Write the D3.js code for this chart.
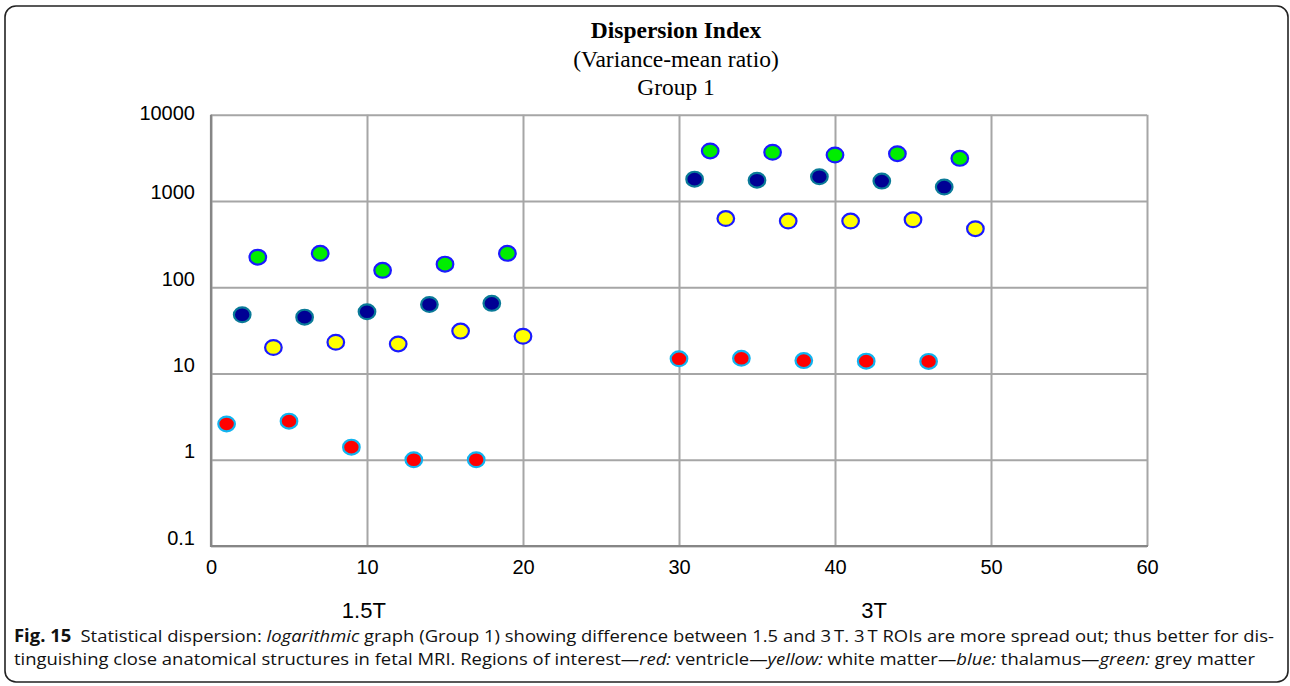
<!DOCTYPE html>
<html><head><meta charset="utf-8">
<script src="https://cdn.jsdelivr.net/npm/d3@7"></script>
<style>body{margin:0;background:#fff}svg{display:block}</style>
</head><body>
<svg id="c" width="1290" height="686"></svg>
<script>
// ---- data ----
const xTicks = [0, 10, 20, 30, 40, 50, 60];
const yTicks = [0.1, 1, 10, 100, 1000, 10000];
const yTickLabels = ["0.1", "1", "10", "100", "1000", "10000"];
const ventricleX = [1, 5, 9, 13, 17, 30, 34, 38, 42, 46];
const ventricleY = [2.6, 2.8, 1.4, 1.0, 1.0, 14.8, 15.0, 14.1, 13.9, 13.8];
const thalamusX = [2, 6, 10, 14, 18, 31, 35, 39, 43, 47];
const thalamusY = [48, 45, 52, 63, 65, 1790, 1740, 1910, 1700, 1450];
const whiteX = [4, 8, 12, 16, 20, 33, 37, 41, 45, 49];
const whiteY = [20, 23, 22, 31, 27, 625, 585, 585, 605, 477];
const greyX = [3, 7, 11, 15, 19, 32, 36, 40, 44, 48];
const greyY = [223, 247, 157, 185, 247, 3800, 3670, 3410, 3530, 3120];
const groupLabels = ["1.5T", "3T"];
const groupLabelX = [9.8, 42.5];
const titleLines = ["Dispersion Index", "(Variance-mean ratio)", "Group 1"];

const series = [
  {x: ventricleX, y: ventricleY, fill: "#ff0000", stroke: "#10b4f0"},
  {x: thalamusX, y: thalamusY, fill: "#000094", stroke: "#0a7a98"},
  {x: whiteX, y: whiteY, fill: "#ffff00", stroke: "#1a1aff"},
  {x: greyX, y: greyY, fill: "#00ee00", stroke: "#1a1aff"}
];

const svg = d3.select("#c");
const L = 211, R = 1147, T = 114.7, B = 546;
const x = d3.scaleLinear().domain([0, 60]).range([L, R]);
const y = d3.scaleLog().domain([0.1, 10000]).range([B, T]);

// border
svg.append("rect").attr("x", 5).attr("y", 6).attr("width", 1283).attr("height", 676)
  .attr("rx", 11).attr("fill", "none").attr("stroke", "#222").attr("stroke-width", 1.6);

// title
const title = svg.append("text").attr("text-anchor", "middle")
  .attr("font-family", "'Liberation Serif','Times New Roman',serif").attr("font-size", 23.5).attr("fill", "#000");
titleLines.forEach((t, i) => {
  title.append("tspan").attr("x", 676).attr("y", 38 + i * 28.5).text(t)
    .attr("font-weight", i === 0 ? "bold" : "normal");
});

// grid
const grid = svg.append("g");
grid.append("g").attr("transform", `translate(0,${B})`)
  .call(d3.axisBottom(x).tickValues(xTicks).tickSize(-(B - T)).tickFormat(""))
  .call(g => g.select(".domain").remove())
  .call(g => g.selectAll("line").attr("stroke", "#a6a6a6").attr("stroke-width", 2));
grid.append("g").attr("transform", `translate(${L},0)`)
  .call(d3.axisLeft(y).tickValues(yTicks).tickSize(-(R - L)).tickFormat(""))
  .call(g => g.select(".domain").remove())
  .call(g => g.selectAll("line").attr("stroke", "#a6a6a6").attr("stroke-width", 2));

// axes lines
svg.append("line").attr("x1", L).attr("x2", L).attr("y1", T).attr("y2", B + 1)
  .attr("stroke", "#868686").attr("stroke-width", 2.2);
svg.append("line").attr("x1", L - 1).attr("x2", R + 1).attr("y1", B).attr("y2", B)
  .attr("stroke", "#868686").attr("stroke-width", 2.2);

// tick labels
const font = "'Liberation Sans',Arial,sans-serif";
svg.append("g").attr("transform", `translate(0,${B})`)
  .call(d3.axisBottom(x).tickValues(xTicks).tickSize(0).tickPadding(14).tickFormat(d3.format("d")))
  .call(g => g.select(".domain").remove())
  .call(g => g.selectAll("text").attr("font-family", font).attr("font-size", 20).attr("fill", "#000"));
svg.append("g").attr("transform", `translate(${L},0)`)
  .call(d3.axisLeft(y).tickValues(yTicks).tickSize(0).tickPadding(16)
    .tickFormat((d, i) => yTickLabels[i]))
  .call(g => g.select(".domain").remove())
  .call(g => g.selectAll("text").attr("font-family", font).attr("font-size", 20).attr("fill", "#000")
    .attr("dy", (d, i) => i === yTicks.length - 1 ? "0.25em" : "-0.1em"));

// points
series.forEach(s => {
  svg.append("g").selectAll("ellipse").data(s.x.map((v, i) => [v, s.y[i]])).join("ellipse")
    .attr("cx", d => x(d[0])).attr("cy", d => y(d[1]))
    .attr("rx", 8.3).attr("ry", 7.4)
    .attr("fill", s.fill).attr("stroke", s.stroke).attr("stroke-width", 2.2);
});

// group labels
svg.append("g").selectAll("text").data(groupLabels).join("text")
  .attr("x", (d, i) => x(groupLabelX[i])).attr("y", 618).attr("text-anchor", "middle")
  .attr("font-family", font).attr("font-size", 22).attr("fill", "#000").text(d => d);

// caption
const capFont = "'Open Sans','Noto Sans',sans-serif";
const cap1 = svg.append("text").attr("x", 14).attr("y", 642).attr("font-family", capFont)
  .attr("font-size", 17).attr("fill", "#111").attr("textLength", 1260).attr("lengthAdjust", "spacingAndGlyphs");
cap1.append("tspan").attr("font-weight", "bold").text("Fig. 15");
cap1.append("tspan").text("\u2002Statistical dispersion: ");
cap1.append("tspan").attr("font-style", "italic").text("logarithmic");
cap1.append("tspan").text(" graph (Group 1) showing difference between 1.5 and 3\u2009T. 3\u2009T ROIs are more spread out; thus better for dis-");
const cap2 = svg.append("text").attr("x", 14).attr("y", 665).attr("font-family", capFont)
  .attr("font-size", 17).attr("fill", "#111").attr("textLength", 1241).attr("lengthAdjust", "spacingAndGlyphs");
cap2.append("tspan").text("tinguishing close anatomical structures in fetal MRI. Regions of interest\u2014");
cap2.append("tspan").attr("font-style", "italic").text("red:");
cap2.append("tspan").text(" ventricle\u2014");
cap2.append("tspan").attr("font-style", "italic").text("yellow:");
cap2.append("tspan").text(" white matter\u2014");
cap2.append("tspan").attr("font-style", "italic").text("blue:");
cap2.append("tspan").text(" thalamus\u2014");
cap2.append("tspan").attr("font-style", "italic").text("green:");
cap2.append("tspan").text(" grey matter");
</script>
</body></html>
